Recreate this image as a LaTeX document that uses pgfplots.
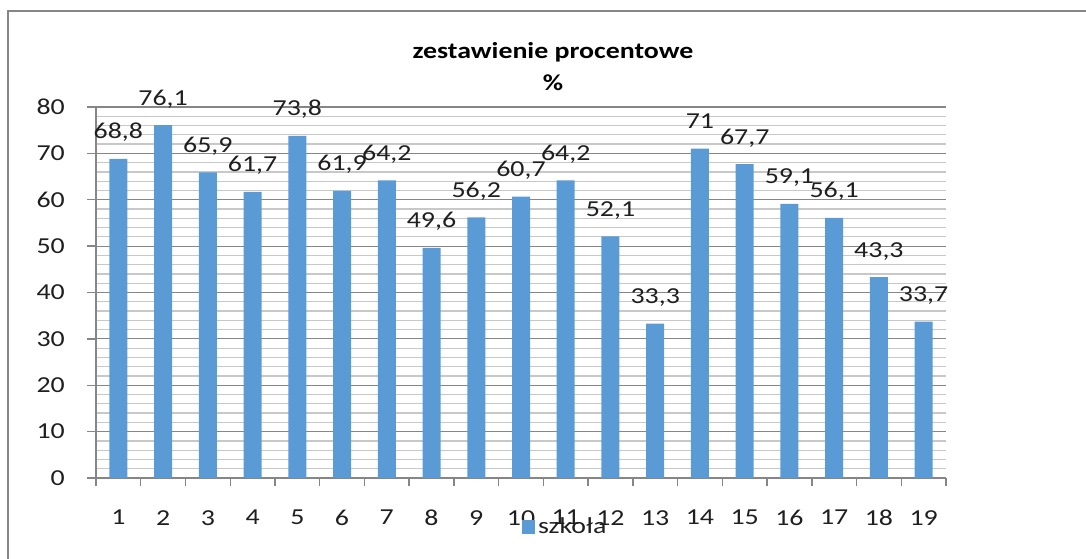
\documentclass[border=0pt]{standalone}
\usepackage{fontspec}
\setmainfont{Carlito}[FakeStretch=1.22]
\usepackage{pgfplots}
\pgfplotsset{compat=1.18}
\definecolor{barc}{HTML}{5B9BD5}
\definecolor{txtc}{HTML}{1F1F1F}
\definecolor{axc}{HTML}{868686}
\definecolor{minc}{HTML}{C8C8C8}
\begin{document}
\begin{tikzpicture}
\path[use as bounding box] (0,0) rectangle (21.72,11.18);
\draw[axc, line width=0.8pt] (0.16,0) -- (0.16,10.96) -- (21.72,10.96);
\begin{axis}[
  at={(1.92cm,1.62cm)}, anchor=south west,
  scale only axis, width=17cm, height=7.42cm,
  xmin=0.5, xmax=19.5, ymin=0, ymax=80,
  axis x line=bottom, axis y line=left,
  axis line style={axc, line width=0.8pt, -},
  ytick={0,10,...,80},
  minor y tick num=4,
  ymajorgrids, yminorgrids,
  major grid style={axc, line width=0.7pt},
  minor grid style={minc, line width=0.7pt},
  xtick={0.5,1.5,...,19.5},
  xticklabels={1,2,3,4,5,6,7,8,9,10,11,12,13,14,15,16,17,18,19},
  x tick label as interval,
  tick align=outside,
  major tick length=0.17cm,
  minor tick length=0pt,
  tick style={axc, line width=0.8pt},
  font=\fontsize{13}{15.5}\selectfont\color{txtc},
  ticklabel style={font=\fontsize{13}{15.5}\selectfont, txtc},
  xticklabel style={yshift=-0.35cm},
  yticklabel style={xshift=-0.33cm},
  /pgf/number format/.cd, use comma, fixed, precision=1, assume math mode=true,
  /pgfplots/.cd,
  ybar, bar width=0.36cm, bar shift=0pt,
  nodes near coords,
  nodes near coords align={anchor=base},
  every node near coord/.append style={yshift=0.4cm, font=\fontsize{13}{15.5}\selectfont, txtc},
  legend style={draw=none, fill=none, at={(0.494,-0.132)}, anchor=west,
     font=\fontsize{13}{15.5}\selectfont, text=txtc},
  legend image code/.code={\fill[barc] (-0.1cm,-0.14cm) rectangle (0.16cm,0.14cm);},
]
\addplot[fill=barc, draw=none] coordinates {
(1,68.8) (2,76.1) (3,65.9) (4,61.7) (5,73.8) (6,61.9) (7,64.2) (8,49.6) (9,56.2) (10,60.7)
(11,64.2) (12,52.1) (13,33.3) (14,71) (15,67.7) (16,59.1) (17,56.1) (18,43.3) (19,33.7)};
\addlegendentry{szkoła}
\end{axis}
\node[anchor=base, font=\fontsize{13}{15.5}\selectfont\bfseries, text=black] at (11.06,10.0) {zestawienie procentowe};
\node[anchor=base, font=\fontsize{13}{15.5}\selectfont\bfseries, text=black] at (11.06,9.36) {\%};
\end{tikzpicture}
\end{document}
